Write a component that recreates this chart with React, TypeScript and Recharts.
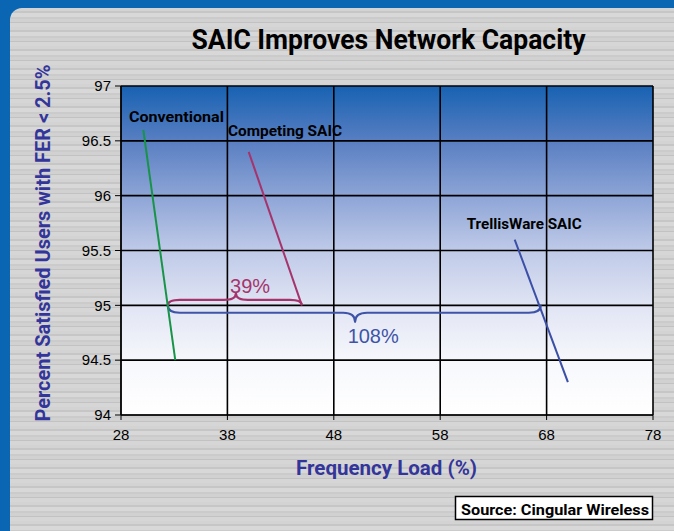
import React from 'react';
import {
  ComposedChart,
  Line,
  XAxis,
  YAxis,
  CartesianGrid,
  ReferenceArea,
  ReferenceDot,
} from 'recharts';

// ---- data ----
const xTicks = [28, 38, 48, 58, 68, 78];
const yTicks = [94, 94.5, 95, 95.5, 96, 96.5, 97];

const conventional = [
  { x: 30.1, y: 96.6 },
  { x: 33.1, y: 94.5 },
];
const competingSaic = [
  { x: 40.0, y: 96.4 },
  { x: 45.0, y: 95.0 },
];
const trellisWareSaic = [
  { x: 65.0, y: 95.6 },
  { x: 70.0, y: 94.3 },
];

// series name labels: text + anchor point in data units
const seriesLabels = [
  { key: 'conv', text: 'Conventional', x: 28.75, y: 96.675 },
  { key: 'comp', text: 'Competing SAIC', x: 38.06, y: 96.54 },
  { key: 'trel', text: 'TrellisWare SAIC', x: 60.49, y: 95.7 },
];

// braces: span in data units, end level and tip level
const braces = [
  { key: 'b39', x1: 32.4, x2: 45.0, yEnd: 95.0, yTip: 95.11, tipX: 38.8 },
  { key: 'b108', x1: 32.4, x2: 67.45, yEnd: 95.0, yTip: 94.85, tipX: 50.0 },
];
const braceLabels = [
  { key: 'b39', text: '39%', x: 38.25, y: 95.117 },
  { key: 'b108', text: '108%', x: 49.3, y: 94.654 },
];

// ---- styles ----
const COLORS: Record<string, string> = {
  conv: '#179447',
  comp: '#a6346c',
  trel: '#3b4fa6',
  b39: '#a6346c',
  b108: '#3e54a8',
  axisTitle: '#33359a',
};
const LABEL_WIDTH: Record<string, number> = { conv: 95, comp: 114, trel: 115 };

const X0 = 28;
const X1 = 78;

function braceShape(b: typeof braces[number], color: string) {
  return (props: any) => {
    const { x, y, width, height } = props;
    if (x == null || width == null) return <g />;
    const up = b.yTip > b.yEnd;
    const yEndPx = up ? y + height : y;
    const yTipPx = up ? y : y + height;
    const yMid = yEndPx + (yTipPx - yEndPx) * 0.45;
    const xs = x;
    const xe = x + width;
    const xc = x + ((b.tipX - b.x1) / (b.x2 - b.x1)) * width;
    const r = 12;
    const d = [
      `M ${xs} ${yEndPx}`,
      `Q ${xs} ${yMid} ${xs + r} ${yMid}`,
      `L ${xc - r} ${yMid}`,
      `Q ${xc} ${yMid} ${xc} ${yTipPx}`,
      `Q ${xc} ${yMid} ${xc + r} ${yMid}`,
      `L ${xe - r} ${yMid}`,
      `Q ${xe} ${yMid} ${xe} ${yEndPx}`,
    ].join(' ');
    return <path d={d} fill="none" stroke={color} strokeWidth={2.2} strokeLinejoin="round" />;
  };
}

const textShape = (text: string, style: any) => (props: any) => {
  const { cx, cy } = props;
  if (cx == null) return <g />;
  return (
    <text x={cx} y={cy} {...style}>
      {text}
    </text>
  );
};

const stripeBg =
  'repeating-linear-gradient(180deg, #d3d3d3 0px, #d3d3d3 3px, #c6c6c6 3px, #c6c6c6 5px, #d8d8d8 5px, #d8d8d8 9px, #cbcbcb 9px, #cbcbcb 11px, #d1d1d1 11px, #d1d1d1 14px, #c2c2c2 14px, #c2c2c2 15px, #d6d6d6 15px, #d6d6d6 19px)';

const tickFont = { fill: '#000', fontSize: 15, fontFamily: 'Liberation Sans, Arial, sans-serif' };

export default function App() {
  return (
    <div style={{ position: 'absolute', left: 0, top: 0, width: 674, height: 531, background: '#0a66b3', overflow: 'hidden' }}>
      <div
        style={{
          position: 'absolute',
          left: 10,
          top: 8,
          width: 676,
          height: 540,
          borderRadius: '12px 12px 0 0',
          background: stripeBg,
        }}
      />
      <svg width={0} height={0} style={{ position: 'absolute' }}>
        <defs>
          <linearGradient id="plotGrad" x1="0" y1="0" x2="0" y2="1">
            <stop offset="0" stopColor="#1762b2" />
            <stop offset="0.17" stopColor="#5a7fc2" />
            <stop offset="0.34" stopColor="#8fa6d7" />
            <stop offset="0.5" stopColor="#bfcae8" />
            <stop offset="0.67" stopColor="#e1e5f4" />
            <stop offset="0.84" stopColor="#f7f8fc" />
            <stop offset="1" stopColor="#ffffff" />
          </linearGradient>
        </defs>
      </svg>
      <div style={{ position: 'absolute', left: 0, top: 0 }}>
        <ComposedChart
          width={674}
          height={531}
          margin={{ top: 86, right: 21, bottom: 76, left: 61 }}
        >
          <CartesianGrid
            stroke="#000"
            strokeWidth={1.6}
            fill="url(#plotGrad)"
            fillOpacity={1}
          />
          <XAxis
            type="number"
            dataKey="x"
            domain={[X0, X1]}
            ticks={xTicks}
            allowDataOverflow
            height={40}
            stroke="#000"
            tickSize={5}
            tickMargin={9}
            tick={tickFont}
          />
          <YAxis
            type="number"
            dataKey="y"
            domain={[94, 97]}
            ticks={yTicks}
            allowDataOverflow
            width={60}
            stroke="#000"
            tickSize={6}
            tickMargin={4}
            tick={tickFont}
          />
          <Line data={conventional} dataKey="y" stroke={COLORS.conv} strokeWidth={2} dot={false} isAnimationActive={false} />
          <Line data={competingSaic} dataKey="y" stroke={COLORS.comp} strokeWidth={2} dot={false} isAnimationActive={false} />
          <Line data={trellisWareSaic} dataKey="y" stroke={COLORS.trel} strokeWidth={2} dot={false} isAnimationActive={false} />
          {braces.map((b) => (
            <ReferenceArea
              key={b.key}
              x1={b.x1}
              x2={b.x2}
              y1={Math.min(b.yEnd, b.yTip)}
              y2={Math.max(b.yEnd, b.yTip)}
              ifOverflow="visible"
              shape={braceShape(b, COLORS[b.key])}
            />
          ))}
          {seriesLabels.map((l) => (
            <ReferenceDot
              key={l.key}
              x={l.x}
              y={l.y}
              r={0}
              ifOverflow="visible"
              shape={textShape(l.text, {
                fontFamily: 'Roboto, sans-serif',
                fontWeight: 700,
                fontSize: 15,
                fill: '#000',
                textLength: LABEL_WIDTH[l.key],
                lengthAdjust: 'spacingAndGlyphs',
              })}
            />
          ))}
          {braceLabels.map((l) => (
            <ReferenceDot
              key={l.key}
              x={l.x}
              y={l.y}
              r={0}
              ifOverflow="visible"
              shape={textShape(l.text, {
                fontFamily: 'Liberation Sans, Arial, sans-serif',
                fontSize: 20,
                fill: COLORS[l.key],
              })}
            />
          ))}
        </ComposedChart>
      </div>
      <svg width={674} height={531} style={{ position: 'absolute', left: 0, top: 0, pointerEvents: 'none' }}>
        <text
          x={191.5}
          y={49}
          fontFamily="Roboto, sans-serif"
          fontWeight={700}
          fontSize={27}
          fill="#000"
          textLength={394}
          lengthAdjust="spacingAndGlyphs"
        >
          SAIC Improves Network Capacity
        </text>
        <text
          transform="translate(50,243) rotate(-90)"
          textAnchor="middle"
          fontFamily="Roboto, sans-serif"
          fontWeight={700}
          fontSize={20}
          fill={COLORS.axisTitle}
          textLength={357}
          lengthAdjust="spacingAndGlyphs"
        >
          Percent Satisfied Users with FER &lt; 2.5%
        </text>
        <text
          x={386.5}
          y={475}
          textAnchor="middle"
          fontFamily="Roboto, sans-serif"
          fontWeight={700}
          fontSize={21}
          fill={COLORS.axisTitle}
          textLength={181}
          lengthAdjust="spacingAndGlyphs"
        >
          Frequency Load (%)
        </text>
        <rect x={455.5} y={496.5} width={197} height={23} fill="#fff" stroke="#000" strokeWidth={1.5} />
        <text
          x={461}
          y={514.5}
          fontFamily="Roboto, sans-serif"
          fontWeight={700}
          fontSize={15}
          fill="#000"
          textLength={188}
          lengthAdjust="spacingAndGlyphs"
        >
          Source: Cingular Wireless
        </text>
      </svg>
    </div>
  );
}
